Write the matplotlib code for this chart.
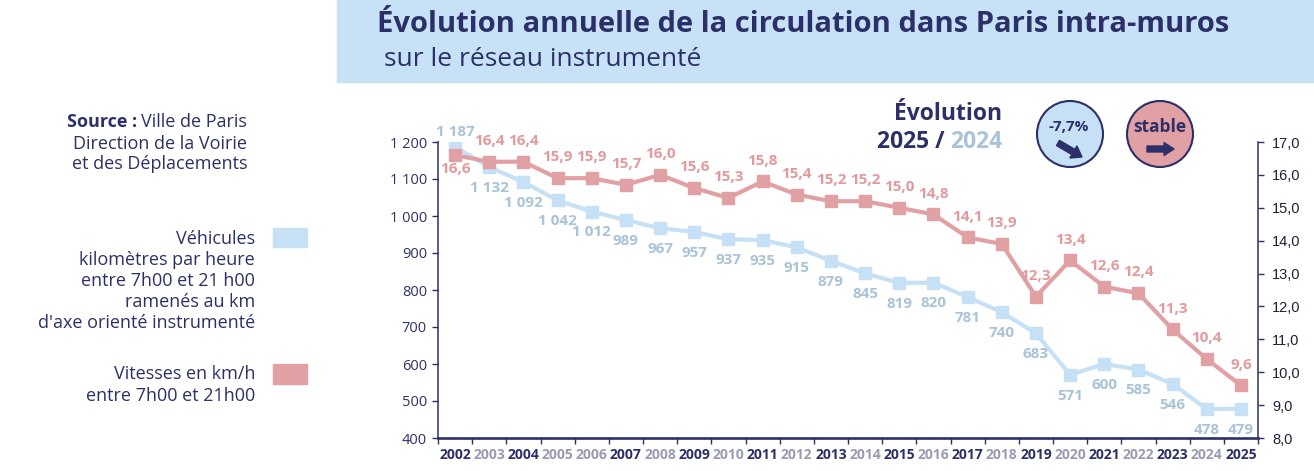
import matplotlib
matplotlib.use('Agg')
import matplotlib.pyplot as plt
from matplotlib.patches import Rectangle, Circle, FancyArrow

# Données
years = list(range(2002, 2026))
vehicules = [1187, 1132, 1092, 1042, 1012, 989, 967, 957, 937, 935, 915, 879,
             845, 819, 820, 781, 740, 683, 571, 600, 585, 546, 478, 479]
vitesses = [16.6, 16.4, 16.4, 15.9, 15.9, 15.7, 16.0, 15.6, 15.3, 15.8, 15.4, 15.2,
            15.2, 15.0, 14.8, 14.1, 13.9, 12.3, 13.4, 12.6, 12.4, 11.3, 10.4, 9.6]
dark_years = [2002, 2004, 2007, 2009, 2011, 2013, 2015, 2017, 2019, 2021, 2023, 2025]
evol_vehicules = '-7,7%'
evol_vitesses = 'stable'

navy = '#2d3068'
grey_year = '#9a9ab4'
blue_line = '#c6e0f6'
pink_line = '#e0a0a4'
blue_lab = '#a9c3d9'
pink_lab = '#e39a9c'
banner = '#c7e1f6'

W, H, DPI = 1314, 471, 100
plt.rcParams['font.family'] = ['Open Sans', 'DejaVu Sans']

fig = plt.figure(figsize=(W / DPI, H / DPI), dpi=DPI)

# Graphique principal
ax = fig.add_axes([438 / W, 1 - 438 / H, (1258 - 438) / W, (438 - 142) / H])
xs = list(range(len(years)))
ax.plot(xs, vehicules, color=blue_line, lw=3, marker='s', ms=9, zorder=2)
ax.set_xlim(-0.5, len(years) - 0.5)
ax.set_ylim(400, 1200)
ax.set_yticks(range(400, 1201, 100))
ax.set_yticklabels([f'{v:,}'.replace(',', ' ') for v in range(400, 1201, 100)])
ax.tick_params(axis='y', length=4, width=1, color=navy, labelcolor=navy,
               labelsize=10.5, pad=4)
ax.set_xticks(xs)
ax.set_xticklabels([str(y) for y in years], fontsize=10, fontweight='bold')
ax.set_xticks([i - 0.5 for i in range(len(years) + 1)], minor=True)
ax.tick_params(axis='x', which='major', length=0, pad=7)
ax.tick_params(axis='x', which='minor', length=4, width=1, color=navy)
for lab, y in zip(ax.get_xticklabels(), years):
    lab.set_color(navy if y in dark_years else grey_year)
for s in ['top', 'right']:
    ax.spines[s].set_visible(False)
ax.spines['left'].set_color(navy)
ax.spines['left'].set_linewidth(1.1)
ax.spines['bottom'].set_color(navy)
ax.spines['bottom'].set_linewidth(1.9)

for i, v in enumerate(vehicules):
    dy = 11 if i == 0 else -15
    ax.annotate(f'{v:,}'.replace(',', ' '), (i, v), xytext=(0, dy),
                textcoords='offset points', ha='center', va='center',
                fontsize=11, fontweight='bold', color=blue_lab)

ax2 = ax.twinx()
ax2.plot(xs, vitesses, color=pink_line, lw=3, marker='s', ms=9)
ax2.set_ylim(8, 17)
ax2.set_yticks(range(8, 18))
ax2.set_yticklabels([f'{v},0' for v in range(8, 18)], family='Liberation Sans')
ax2.tick_params(axis='y', length=4, width=1, color=navy, labelcolor='#1f1f3a',
                labelsize=10.5, pad=6)
for s in ['top', 'left', 'bottom']:
    ax2.spines[s].set_visible(False)
ax2.spines['right'].set_color(navy)
ax2.spines['right'].set_linewidth(1.1)

for i, v in enumerate(vitesses):
    dy = -10 if i == 0 else 15
    ax2.annotate(f'{v:.1f}'.replace('.', ','), (i, v), xytext=(0, dy),
                 textcoords='offset points', ha='center', va='center',
                 fontsize=11, fontweight='bold', color=pink_lab)

# Calque en pixels pour le titre, la légende et les pastilles
ov = fig.add_axes([0, 0, 1, 1])
ov.set_xlim(0, W)
ov.set_ylim(H, 0)
ov.axis('off')
ov.patch.set_visible(False)

ov.add_patch(Rectangle((337, 0), W - 337, 82, color=banner, zorder=0))
ov.text(377, 25, 'Évolution annuelle de la circulation dans Paris intra-muros',
        fontsize=21, fontweight='bold', color=navy, va='center')
ov.text(384, 59, 'sur le réseau instrumenté', fontsize=19, color=navy, va='center')

renderer = fig.canvas.get_renderer()
t = ov.text(247, 122, 'Ville de Paris', fontsize=13, color=navy, ha='right', va='center')
bb = t.get_window_extent(renderer)
ov.text(bb.x0 - 4, 122, 'Source :', fontsize=13, fontweight='bold', color=navy,
        ha='right', va='center')
ov.text(247, 154, 'Direction de la Voirie\net des Déplacements', fontsize=13,
        color=navy, ha='right', va='center', linespacing=1.2)

ov.text(255, 281, 'Véhicules\nkilomètres par heure\nentre 7h00 et 21 h00\n'
        'ramenés au km\nd\'axe orienté instrumenté', fontsize=13, color=navy,
        ha='right', va='center', linespacing=1.22)
ov.text(255, 385, 'Vitesses en km/h\nentre 7h00 et 21h00', fontsize=13, color=navy,
        ha='right', va='center', linespacing=1.22)
ov.add_patch(Rectangle((273, 228), 34, 19, color=blue_line))
ov.add_patch(Rectangle((273, 364), 34, 20, color=pink_line))

ov.text(1002, 114, 'Évolution', fontsize=16.5, fontweight='bold', color=navy,
        ha='right', va='center')
t = ov.text(1002, 142, '2024', fontsize=16.5, fontweight='bold', color=blue_lab,
            ha='right', va='center')
bb = t.get_window_extent(renderer)
ov.text(bb.x0 - 5, 142, '2025 /', fontsize=16.5, fontweight='bold', color=navy,
        ha='right', va='center')

ov.add_patch(Circle((1070, 134), 33, facecolor=blue_line, edgecolor=navy, lw=1.5))
ov.add_patch(Circle((1160, 134), 33, facecolor=pink_line, edgecolor=navy, lw=1.5))
ov.text(1069, 127, evol_vehicules, fontsize=11, fontweight='bold', color=navy,
        ha='center', va='center')
ov.text(1160, 127, evol_vitesses, fontsize=12.5, fontweight='bold', color=navy,
        ha='center', va='center')
ov.add_patch(FancyArrow(1058, 143, 24, 14, width=6, head_width=14, head_length=10,
                        length_includes_head=True, color=navy))
ov.add_patch(FancyArrow(1147, 149, 27, 0, width=6, head_width=13, head_length=10,
                        length_includes_head=True, color=navy))

fig.savefig('out.png', dpi=DPI)
